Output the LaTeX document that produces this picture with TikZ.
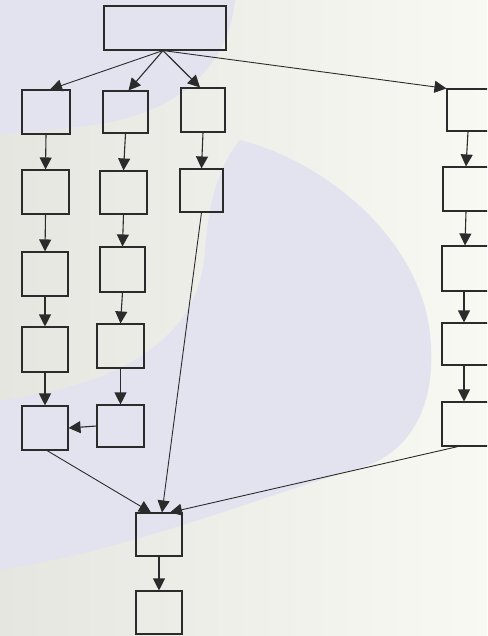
\documentclass[tikz,border=0pt]{standalone}
\usetikzlibrary{arrows.meta}
\definecolor{lav}{HTML}{E3E3F0}
\definecolor{cream}{HTML}{F8F9F2}
\definecolor{greyw}{HTML}{E6E6E1}
\definecolor{ink}{HTML}{2B2B2B}
\tikzset{
  box/.style={draw=ink, line width=1.1pt, rectangle, inner sep=0pt},
  conn/.style={draw=ink, line width=1.1pt, -{Triangle[length=12pt,width=12pt]}},
  thin conn/.style={draw=ink, line width=0.9pt, -{Triangle[length=12pt,width=12pt]}}
}
\begin{document}
\begin{tikzpicture}[x=1pt,y=-1pt]
\useasboundingbox (0,0) rectangle (487,636);
\clip (0,0) rectangle (487,636);
% background
\shade[left color=greyw, right color=cream] (0,0) rectangle (487,636);
\fill[lav] (0,0) -- (235,0) .. controls (228,70) and (175,112) .. (100,124) .. controls (60,130) and (25,132) .. (0,135) -- cycle;
\fill[lav] (0,400) .. controls (120,385) and (200,340) .. (205,250) .. controls (208,200) and (222,160) .. (240,140) .. controls (320,160) and (410,230) .. (428,320) .. controls (440,390) and (420,450) .. (360,468) .. controls (250,500) and (130,550) .. (0,570) -- cycle;
% boxes
\node[box, minimum width=122pt, minimum height=44pt] (t) at (165,28) {};
\node[box, minimum width=48pt, minimum height=44pt] (a1) at (46,112) {};
\node[box, minimum width=45pt, minimum height=42pt] (b1) at (125.5,112) {};
\node[box, minimum width=44pt, minimum height=44pt] (c1) at (203,110) {};
\node[box, minimum width=46pt, minimum height=42pt] (d1) at (470,110) {};
\node[box, minimum width=47pt, minimum height=44pt] (a2) at (45.5,192) {};
\node[box, minimum width=47pt, minimum height=43pt] (b2) at (123.5,192.5) {};
\node[box, minimum width=43pt, minimum height=43pt] (c2) at (201.5,190.5) {};
\node[box, minimum width=50pt, minimum height=44pt] (d2) at (468,189) {};
\node[box, minimum width=46pt, minimum height=44pt] (a3) at (45,274) {};
\node[box, minimum width=45pt, minimum height=45pt] (b3) at (122.5,269.5) {};
\node[box, minimum width=50pt, minimum height=45pt] (d3) at (467,268.5) {};
\node[box, minimum width=46pt, minimum height=45pt] (a4) at (45,349.5) {};
\node[box, minimum width=47pt, minimum height=44pt] (b4) at (120.5,346) {};
\node[box, minimum width=50pt, minimum height=42pt] (d4) at (467,344) {};
\node[box, minimum width=46pt, minimum height=44pt] (a5) at (45,428) {};
\node[box, minimum width=47pt, minimum height=42pt] (b5) at (120.5,426) {};
\node[box, minimum width=50pt, minimum height=44pt] (d5) at (467,424) {};
\node[box, minimum width=46pt, minimum height=43pt] (e1) at (159,534.5) {};
\node[box, minimum width=46pt, minimum height=43pt] (e2) at (159,612.5) {};
% connectors from top
\draw[thin conn] ([xshift=-2]t.south) -- ([xshift=4]a1.north);
\draw[conn] ([xshift=-2]t.south) -- ([xshift=3]b1.north);
\draw[conn] ([xshift=-2]t.south) -- ([xshift=-3]c1.north);
\draw[thin conn] ([xshift=-2]t.south) -- (d1.north west);
% chains
\draw[conn] (a1.south) -- (a2.north);
\draw[conn] (a2.south) -- (a3.north);
\draw[conn] (a3.south) -- (a4.north);
\draw[conn] (a4.south) -- (a5.north);
\draw[conn] (b1.south) -- (b2.north);
\draw[conn] (b2.south) -- (b3.north);
\draw[conn] (b3.south) -- (b4.north);
\draw[conn] (b4.south) -- (b5.north);
\draw[conn] (b5.west) -- (a5.east);
\draw[conn] (c1.south) -- (c2.north);
\draw[conn] ([xshift=-2]d1.south) -- ([xshift=-2]d2.north);
\draw[conn] ([xshift=-2]d2.south) -- ([xshift=-2]d3.north);
\draw[conn] ([xshift=-3]d3.south) -- ([xshift=-3]d4.north);
\draw[conn] ([xshift=-3]d4.south) -- ([xshift=-3]d5.north);
% to bottom
\draw[thin conn] ([xshift=2]a5.south) -- ([xshift=-8]e1.north);
\draw[thin conn] (c2.south) -- ([xshift=3]e1.north);
\draw[thin conn] ([xshift=-9]d5.south) -- ([xshift=11]e1.north);
\draw[conn] (e1.south) -- (e2.north);
\end{tikzpicture}
\end{document}
